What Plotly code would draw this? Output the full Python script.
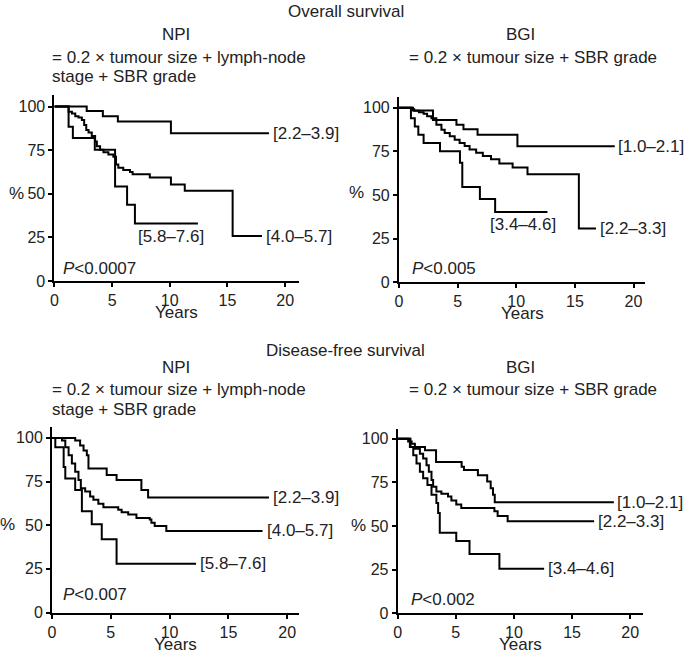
import plotly.graph_objects as go

W, H = 685, 662

# ---------------- data ----------------
x_ticks = [0, 5, 10, 15, 20]
y_ticks = [0, 25, 50, 75, 100]

section_titles = ["Overall survival", "Disease-free survival"]
index_names = ["NPI", "BGI"]
npi_formula = ["= 0.2 \u00d7 tumour size + lymph-node", "stage + SBR grade"]
bgi_formula = ["= 0.2 \u00d7 tumour size + SBR grade"]

# Overall survival - NPI
os_npi_low_t = [0, 2.8, 4.2, 5.5, 10.1, 18.6]
os_npi_low_s = [100, 97.5, 94.5, 91.5, 84.7, 84.7]
os_npi_mid_t = [0, 1.23, 1.52, 1.81, 2.09, 2.38, 2.58, 2.76, 2.96, 3.24, 3.53, 3.68, 3.96,
                4.25, 4.68, 5.11, 5.34, 5.54, 5.97, 6.55, 6.78, 8.27, 10.1, 11.3, 15.45, 18.0]
os_npi_mid_s = [100, 97.0, 96.0, 94.5, 93.8, 92.3, 89.5, 86.6, 85.1, 83.2, 80.0, 77.2, 75.3,
                73.8, 72.5, 71.2, 66.8, 65.0, 63.7, 62.5, 61.2, 59.3, 55.3, 51.8, 25.8, 25.8]
os_npi_high_t = [0, 1.23, 1.6, 3.5, 5.26, 6.3, 6.98, 12.44]
os_npi_high_s = [100, 88.5, 82.0, 75.2, 54.2, 43.8, 33.0, 33.0]
os_npi_labels = ["[2.2\u20133.9]", "[4.0\u20135.7]", "[5.8\u20137.6]"]

# Overall survival - BGI
os_bgi_low_t = [0, 1.2, 2.9, 4.9, 5.5, 6.7, 10.1, 18.4]
os_bgi_low_s = [100, 98.5, 93.0, 90.2, 87.7, 84.5, 77.9, 77.9]
os_bgi_mid_t = [0, 1.1, 1.3, 1.7, 2.1, 2.4, 2.77, 3.19, 3.62, 3.9, 4.33, 4.75, 5.17, 5.6,
                6.02, 6.58, 7.15, 7.85, 8.56, 9.69, 10.96, 15.34, 16.8]
os_bgi_mid_s = [100, 99.2, 98.3, 97.5, 96.5, 95.2, 94.0, 90.2, 87.4, 85.5, 83.6, 81.7, 79.8,
                78.0, 76.1, 74.2, 72.3, 70.4, 68.1, 65.7, 61.9, 30.8, 30.8]
os_bgi_high_t = [0, 1.02, 1.35, 1.65, 2.1, 3.5, 5.2, 5.4, 6.9, 8.2, 12.66]
os_bgi_high_s = [100, 94.0, 89.2, 84.5, 79.8, 75.1, 68.5, 54.5, 47.7, 40.2, 40.2]
os_bgi_labels = ["[1.0\u20132.1]", "[2.2\u20133.3]", "[3.4\u20134.6]"]

# Disease-free survival - NPI
dfs_npi_low_t = [0, 1.97, 2.39, 2.68, 2.96, 3.1, 4.65, 5.49, 7.6, 8.17, 18.45]
dfs_npi_low_s = [100, 98.5, 95.7, 92.8, 90.0, 82.5, 78.7, 75.9, 70.2, 65.9, 65.9]
dfs_npi_mid_t = [0, 0.85, 1.13, 1.41, 1.69, 1.97, 2.25, 2.45, 2.82, 3.24, 3.52, 3.94, 4.37,
                 5.63, 5.92, 6.48, 7.18, 8.31, 8.45, 8.73, 9.72, 17.9]
dfs_npi_mid_s = [100, 98.5, 94.7, 90.0, 85.3, 80.6, 75.9, 71.2, 69.3, 66.5, 64.6, 62.3, 60.3,
                 58.9, 57.4, 56.1, 54.2, 53.3, 51.4, 49.5, 46.7, 46.7]
dfs_npi_high_t = [0, 0.28, 0.99, 1.13, 1.97, 2.54, 3.38, 4.23, 5.49, 12.25]
dfs_npi_high_s = [100, 94.7, 83.4, 76.8, 70.2, 58.0, 50.5, 42.0, 27.9, 27.9]
dfs_npi_labels = ["[2.2\u20133.9]", "[4.0\u20135.7]", "[5.8\u20137.6]"]

# Disease-free survival - BGI
dfs_bgi_low_t = [0, 1.1, 2.35, 3.3, 5.5, 5.7, 6.9, 7.7, 8.0, 8.2, 8.35, 18.6]
dfs_bgi_low_s = [100, 95.3, 93.4, 86.8, 84.0, 82.1, 79.2, 75.5, 71.7, 67.9, 63.6, 63.6]
dfs_bgi_mid_t = [0, 0.9, 1.2, 1.48, 1.91, 2.19, 2.48, 2.68, 2.91, 3.05, 3.33, 3.76, 4.33,
                 4.62, 5.04, 5.47, 8.32, 8.6, 9.46, 16.9]
dfs_bgi_mid_s = [100, 98.5, 97.2, 94.3, 91.5, 88.7, 84.9, 81.1, 76.4, 72.6, 69.8, 68.5, 67.0,
                 64.7, 62.3, 60.4, 58.5, 55.7, 52.8, 52.8]
dfs_bgi_high_t = [0, 1.05, 1.34, 1.62, 1.91, 2.19, 2.56, 2.91, 3.33, 3.48, 3.62, 5.04, 6.18, 8.75, 12.6]
dfs_bgi_high_s = [100, 95.3, 90.6, 85.8, 81.1, 77.4, 73.6, 67.9, 63.2, 57.5, 46.2, 41.5, 34.0, 25.5, 25.5]
dfs_bgi_labels = ["[1.0\u20132.1]", "[2.2\u20133.3]", "[3.4\u20134.6]"]

p_values = ["<i>P</i>&lt;0.0007", "<i>P</i>&lt;0.005", "<i>P</i>&lt;0.007", "<i>P</i>&lt;0.002"]

# ---------------- layout helpers ----------------
FONT = "Liberation Sans, Arial, Helvetica, sans-serif"
FS = 17
TFS = 16
TXT = "#222222"


def px_x(p):
    return p / W


def px_y(p):
    return 1 - p / H


# label placement per curve: (xanchor, xshift, yshift)
right_lbl = ("left", 2, 0)

panels = [
    dict(curves=[(os_npi_low_t, os_npi_low_s), (os_npi_mid_t, os_npi_mid_s), (os_npi_high_t, os_npi_high_s)],
         labels=os_npi_labels, place=[right_lbl, right_lbl, ("right", 8, -13)],
         p=p_values[0], pxy=(0.6, 7.3),
         xdom=(50.7, 296.7), ydom=(96.7, 285.0), xmax=21.2, ymax=106.4, pct=(13, 196)),
    dict(curves=[(os_bgi_low_t, os_bgi_low_s), (os_bgi_mid_t, os_bgi_mid_s), (os_bgi_high_t, os_bgi_high_s)],
         labels=os_bgi_labels, place=[("left", 1, 0), right_lbl, ("right", 11, -12)],
         p=p_values[1], pxy=(0.9, 7.9),
         xdom=(397.3, 645.0), ydom=(98.3, 286.0), xmax=21.0, ymax=106.2, pct=(355, 195)),
    dict(curves=[(dfs_npi_low_t, dfs_npi_low_s), (dfs_npi_mid_t, dfs_npi_mid_s), (dfs_npi_high_t, dfs_npi_high_s)],
         labels=dfs_npi_labels, place=[right_lbl, right_lbl, right_lbl],
         p=p_values[2], pxy=(0.8, 10.2),
         xdom=(48.3, 296.7), ydom=(433.3, 621.0), xmax=21.0, ymax=106.0, pct=(4, 532)),
    dict(curves=[(dfs_bgi_low_t, dfs_bgi_low_s), (dfs_bgi_mid_t, dfs_bgi_mid_s), (dfs_bgi_high_t, dfs_bgi_high_s)],
         labels=dfs_bgi_labels, place=[("left", 1, 0), right_lbl, right_lbl],
         p=p_values[3], pxy=(1.0, 7.8),
         xdom=(396.0, 642.7), ydom=(435.0, 621.7), xmax=21.1, ymax=105.6, pct=(357, 533)),
]

fig = go.Figure()
annotations = []
layout_axes = {}

for i, pn in enumerate(panels):
    k = "" if i == 0 else str(i + 1)
    xa, ya = "x" + k, "y" + k
    for (t, s) in pn["curves"]:
        fig.add_trace(go.Scatter(x=t, y=s, mode="lines", line=dict(color="black", width=2, shape="hv"),
                                 xaxis=xa, yaxis=ya, showlegend=False, hoverinfo="skip"))
    for (t, s), lbl, (anc, xs, ys) in zip(pn["curves"], pn["labels"], pn["place"]):
        annotations.append(dict(x=t[-1], y=s[-1], xref=xa, yref=ya, text=lbl, showarrow=False,
                                xanchor=anc, yanchor="middle", xshift=xs, yshift=ys,
                                font=dict(family=FONT, size=FS, color=TXT)))
    annotations.append(dict(x=pn["pxy"][0], y=pn["pxy"][1], xref=xa, yref=ya, text=pn["p"],
                            showarrow=False, xanchor="left", yanchor="middle",
                            font=dict(family=FONT, size=FS, color=TXT)))
    # "%" label and "Years" label
    annotations.append(dict(x=px_x(pn["pct"][0]), y=px_y(pn["pct"][1]), xref="paper", yref="paper",
                            text="%", showarrow=False, xanchor="center", yanchor="middle",
                            font=dict(family=FONT, size=FS, color=TXT)))
    annotations.append(dict(x=px_x((pn["xdom"][0] + pn["xdom"][1]) / 2), y=px_y(pn["ydom"][1] + 32),
                            xref="paper", yref="paper", text="Years", showarrow=False,
                            xanchor="center", yanchor="middle",
                            font=dict(family=FONT, size=FS, color=TXT)))
    axis_common = dict(showline=True, linecolor="black", linewidth=2, ticks="outside",
                       tickcolor="black", tickwidth=2, showgrid=False, zeroline=False,
                       tickfont=dict(family=FONT, size=TFS, color=TXT), fixedrange=True)
    layout_axes["xaxis" + k] = dict(axis_common, domain=[px_x(pn["xdom"][0]), px_x(pn["xdom"][1])],
                                    range=[0, pn["xmax"]], tickvals=x_ticks, ticklen=4,
                                    anchor=ya)
    layout_axes["yaxis" + k] = dict(axis_common, domain=[px_y(pn["ydom"][1]), px_y(pn["ydom"][0])],
                                    range=[0, pn["ymax"]], tickvals=y_ticks, ticklen=4,
                                    anchor=xa)

# headings: (section title y, index name y, formula first line y)
heading_rows = [(12, 35, 58), (355, 373, 395)]
for row, (ty, ny, fy) in enumerate(heading_rows):
    annotations.append(dict(x=px_x(344), y=px_y(ty), xref="paper", yref="paper",
                            text=section_titles[row], showarrow=False, xanchor="center", yanchor="middle",
                            font=dict(family=FONT, size=FS, color=TXT)))
    annotations.append(dict(x=px_x(173), y=px_y(ny), xref="paper", yref="paper",
                            text=index_names[0], showarrow=False, xanchor="center", yanchor="middle",
                            font=dict(family=FONT, size=FS, color=TXT)))
    annotations.append(dict(x=px_x(520), y=px_y(ny), xref="paper", yref="paper",
                            text=index_names[1], showarrow=False, xanchor="center", yanchor="middle",
                            font=dict(family=FONT, size=FS, color=TXT)))
    for j, line in enumerate(npi_formula):
        annotations.append(dict(x=px_x(46), y=px_y(fy + 20 * j), xref="paper", yref="paper",
                                text=line, showarrow=False, xanchor="left", yanchor="middle",
                                font=dict(family=FONT, size=FS, color=TXT)))
    annotations.append(dict(x=px_x(659), y=px_y(fy), xref="paper", yref="paper",
                            text=bgi_formula[0], showarrow=False, xanchor="right", yanchor="middle",
                            font=dict(family=FONT, size=FS, color=TXT)))

fig.update_layout(width=W, height=H, margin=dict(l=0, r=0, t=0, b=0),
                  paper_bgcolor="white", plot_bgcolor="white", showlegend=False,
                  annotations=annotations, **layout_axes)

fig.write_html("out.html", config={"displayModeBar": False, "staticPlot": True},
               post_script="document.body.style.margin='0px';")
